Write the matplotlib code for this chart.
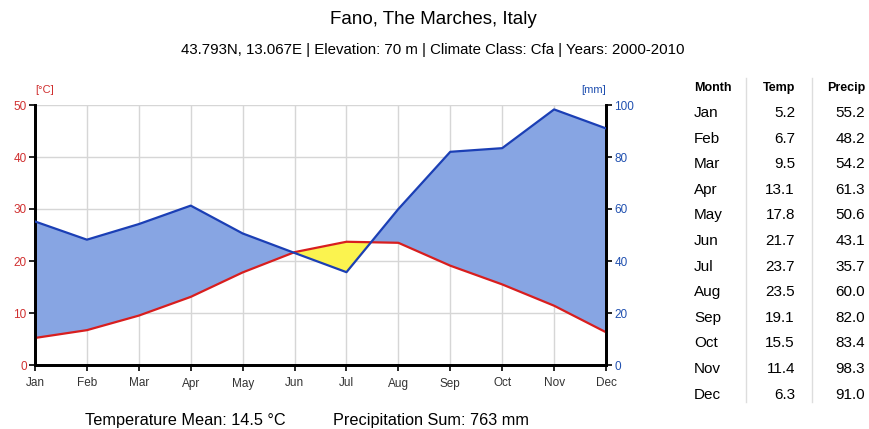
import numpy as np
import matplotlib.pyplot as plt

# Climate data for Fano, 2000-2010
months = ["Jan", "Feb", "Mar", "Apr", "May", "Jun",
          "Jul", "Aug", "Sep", "Oct", "Nov", "Dec"]
temp = [5.2, 6.7, 9.5, 13.1, 17.8, 21.7, 23.7, 23.5, 19.1, 15.5, 11.4, 6.3]
precip = [55.2, 48.2, 54.2, 61.3, 50.6, 43.1, 35.7, 60.0, 82.0, 83.4, 98.3, 91.0]

plt.rcParams['font.family'] = ['Liberation Sans', 'DejaVu Sans']

fig = plt.figure(figsize=(8.7, 4.29), dpi=100)

ax = fig.add_axes([35/870, 1 - 365/429, 571/870, 260/429])
ax2 = ax.twinx()

x = np.arange(len(months))
t = np.array(temp)
p = np.array(precip) / 2  # precip on the temperature scale (mm = 2 * °C)

ax.fill_between(x, t, p, where=p >= t, interpolate=True,
                color="#87a5e3", linewidth=0, zorder=2)
ax.fill_between(x, t, p, where=p <= t, interpolate=True,
                color="#fbf34f", linewidth=0, zorder=2)
ax.plot(x, t, color="#d81e1e", linewidth=1.6, zorder=4)
ax2.plot(x, precip, color="#1b3fb5", linewidth=1.6, zorder=4)

ax.set_xlim(0, 11)
ax.set_ylim(0, 50)
ax2.set_ylim(0, 100)
ax.set_xticks(x)
ax.set_xticklabels(months)
ax.set_yticks(range(0, 51, 10))
ax2.set_yticks(range(0, 101, 20))

ax.grid(True, color="#d6d6d6", linewidth=1)
ax.set_axisbelow(True)

for a in (ax, ax2):
    a.spines["top"].set_visible(False)
    for s in ("left", "right", "bottom"):
        a.spines[s].set_linewidth(2)
        a.spines[s].set_color("black")
    a.tick_params(length=4, width=1.2, labelsize=8.5, pad=2)

ax.tick_params(axis="x", length=4, pad=5, labelcolor="#333333")
ax.tick_params(axis="y", labelcolor="#d03030")
ax2.tick_params(axis="y", labelcolor="#2050b0")

ax.text(0, 1.04, "[°C]", transform=ax.transAxes, color="#d03030",
        fontsize=8, ha="left", va="bottom")
ax.text(1, 1.04, "[mm]", transform=ax.transAxes, color="#2050b0",
        fontsize=8, ha="right", va="bottom")

fig.text(433/870, 1 - 20/429, "Fano, The Marches, Italy",
         fontsize=13.5, ha="center", va="center")
fig.text(433/870, 1 - 50/429,
         "43.793N, 13.067E | Elevation: 70 m | Climate Class: Cfa | Years: 2000-2010",
         fontsize=10.8, ha="center", va="center")

fig.text(185/870, 1 - 420/429, "Temperature Mean: 14.5 °C",
         fontsize=11.7, ha="center", va="center")
fig.text(431/870, 1 - 420/429, "Precipitation Sum: 763 mm",
         fontsize=11.7, ha="center", va="center")

# Table on the right
hy = 88
fig.text(694/870, 1 - hy/429, "Month", fontsize=9, fontweight="bold",
         ha="left", va="center")
fig.text(795/870, 1 - hy/429, "Temp", fontsize=9, fontweight="bold",
         ha="right", va="center")
fig.text(865/870, 1 - hy/429, "Precip", fontsize=9, fontweight="bold",
         ha="right", va="center")
for i, m in enumerate(months):
    yy = 1 - (113 + i * 25.6) / 429
    fig.text(694/870, yy, m, fontsize=11, ha="left", va="center")
    fig.text(795/870, yy, f"{temp[i]:.1f}", fontsize=11, ha="right", va="center")
    fig.text(865/870, yy, f"{precip[i]:.1f}", fontsize=11, ha="right", va="center")

for xs in (746, 812):
    fig.add_artist(plt.Line2D([xs/870, xs/870], [1 - 78/429, 1 - 402/429],
                              color="#dddddd", linewidth=1))

fig.savefig("out.png", dpi=100)
